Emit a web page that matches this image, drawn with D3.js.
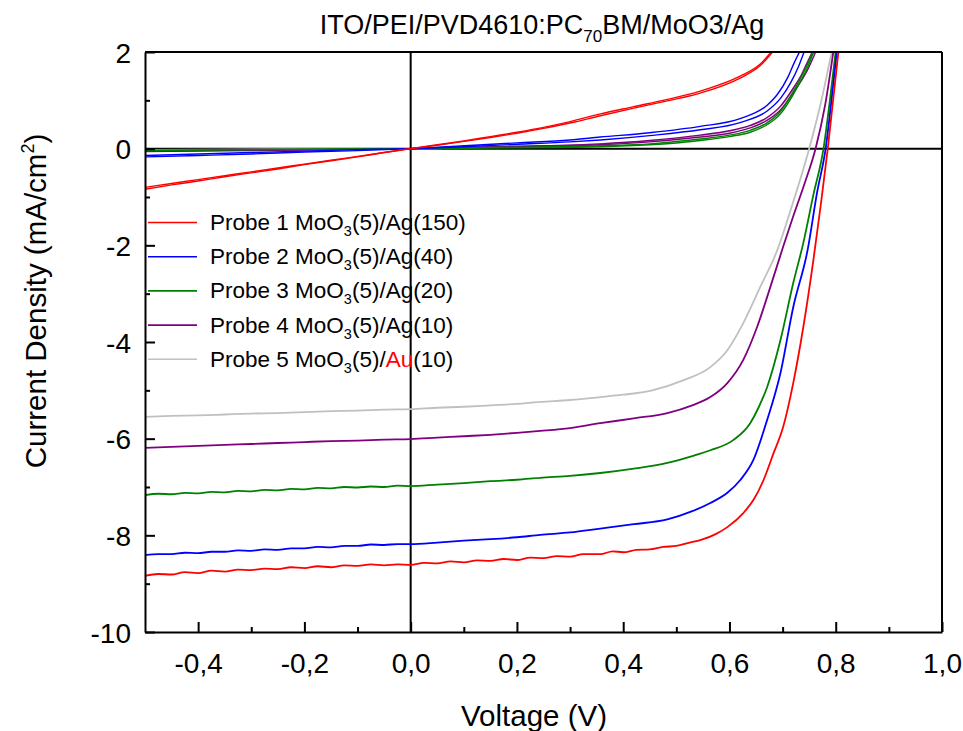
<!DOCTYPE html>
<html><head><meta charset="utf-8">
<script src="https://cdn.jsdelivr.net/npm/d3@7"></script>
<style>
body{margin:0;background:#fff;}
text{font-family:Arial,"Liberation Sans",sans-serif;fill:#000;}
</style></head><body>
<svg id="c" width="963" height="731"></svg>
<script>
// ---------- data ----------
const probes = ["Probe 1", "Probe 2", "Probe 3", "Probe 4", "Probe 5"];
const metals = ["Ag", "Ag", "Ag", "Ag", "Au"];
const thickness = ["150", "40", "20", "10", "10"];
const colors = ["#ff0000", "#0000ff", "#008000", "#800080", "#c0c0c0"];
const xTickValues = [-0.4, -0.2, 0, 0.2, 0.4, 0.6, 0.8, 1.0];
const xMinorTicks = [-0.3, -0.1, 0.1, 0.3, 0.5, 0.7, 0.9];
const yTickValues = [2, 0, -2, -4, -6, -8, -10];
const yMinorTicks = [1, -1, -3, -5, -7, -9];

// illuminated J-V curves [V, J]
const light1 = [[-0.5,-8.84],[-0.475,-8.8],[-0.45,-8.81],[-0.425,-8.76],[-0.4,-8.78],[-0.375,-8.73],[-0.35,-8.75],[-0.325,-8.71],[-0.3,-8.72],[-0.275,-8.69],[-0.25,-8.7],[-0.225,-8.66],[-0.2,-8.68],[-0.175,-8.64],[-0.15,-8.66],[-0.125,-8.62],[-0.1,-8.63],[-0.075,-8.6],[-0.05,-8.62],[-0.025,-8.6],[0,-8.61],[0.025,-8.57],[0.05,-8.58],[0.075,-8.54],[0.1,-8.56],[0.125,-8.52],[0.15,-8.53],[0.175,-8.49],[0.2,-8.51],[0.225,-8.46],[0.25,-8.47],[0.275,-8.43],[0.3,-8.44],[0.325,-8.39],[0.357,-8.39],[0.38,-8.33],[0.4,-8.35],[0.425,-8.3],[0.45,-8.29],[0.475,-8.24],[0.5,-8.22],[0.525,-8.15],[0.545,-8.1],[0.575,-7.97],[0.596,-7.83],[0.626,-7.54],[0.645,-7.27],[0.664,-6.86],[0.683,-6.3],[0.701,-5.76],[0.72,-4.85],[0.739,-3.69],[0.758,-2.3],[0.772,-1.15],[0.785,0],[0.795,1.0],[0.807,2.2]];
const light2 = [[-0.5,-8.41],[-0.475,-8.39],[-0.45,-8.39],[-0.425,-8.36],[-0.4,-8.37],[-0.375,-8.34],[-0.35,-8.34],[-0.325,-8.31],[-0.3,-8.32],[-0.275,-8.29],[-0.25,-8.3],[-0.225,-8.27],[-0.2,-8.27],[-0.175,-8.24],[-0.15,-8.25],[-0.125,-8.22],[-0.1,-8.22],[-0.075,-8.19],[-0.05,-8.2],[-0.025,-8.18],[0,-8.18],[0.05,-8.15],[0.1,-8.11],[0.15,-8.08],[0.2,-8.04],[0.244,-7.99],[0.3,-7.94],[0.357,-7.86],[0.42,-7.77],[0.483,-7.67],[0.53,-7.5],[0.564,-7.33],[0.596,-7.12],[0.62,-6.86],[0.645,-6.44],[0.671,-5.61],[0.696,-4.64],[0.72,-3.28],[0.747,-2.1],[0.765,-0.9],[0.781,0],[0.792,1.0],[0.804,2.2]];
const light3 = [[-0.5,-7.17],[-0.475,-7.14],[-0.45,-7.15],[-0.425,-7.12],[-0.4,-7.13],[-0.375,-7.1],[-0.35,-7.11],[-0.325,-7.08],[-0.3,-7.09],[-0.275,-7.06],[-0.25,-7.07],[-0.225,-7.04],[-0.2,-7.05],[-0.175,-7.02],[-0.15,-7.03],[-0.125,-7.0],[-0.1,-7.01],[-0.075,-6.99],[-0.05,-7.0],[-0.025,-6.97],[0,-6.98],[0.05,-6.95],[0.1,-6.92],[0.15,-6.88],[0.2,-6.85],[0.244,-6.81],[0.3,-6.77],[0.357,-6.71],[0.42,-6.62],[0.483,-6.5],[0.53,-6.36],[0.564,-6.24],[0.607,-6.03],[0.639,-5.68],[0.655,-5.35],[0.671,-4.93],[0.696,-3.96],[0.72,-2.78],[0.739,-1.95],[0.758,-0.95],[0.777,0],[0.789,1.0],[0.802,2.2]];
const light4 = [[-0.5,-6.19],[-0.45,-6.17],[-0.4,-6.15],[-0.35,-6.13],[-0.3,-6.11],[-0.25,-6.09],[-0.2,-6.07],[-0.15,-6.05],[-0.1,-6.04],[-0.05,-6.02],[0,-6.01],[0.05,-5.98],[0.1,-5.95],[0.15,-5.92],[0.2,-5.88],[0.244,-5.84],[0.3,-5.78],[0.357,-5.68],[0.42,-5.58],[0.483,-5.47],[0.53,-5.31],[0.564,-5.14],[0.596,-4.85],[0.626,-4.37],[0.652,-3.69],[0.677,-2.86],[0.701,-2.03],[0.72,-1.4],[0.742,-0.7],[0.762,0],[0.78,0.9],[0.798,2.2]];
const light5 = [[-0.5,-5.55],[-0.45,-5.53],[-0.4,-5.52],[-0.35,-5.5],[-0.3,-5.48],[-0.25,-5.47],[-0.2,-5.45],[-0.15,-5.43],[-0.1,-5.42],[-0.05,-5.4],[0,-5.39],[0.05,-5.36],[0.1,-5.34],[0.15,-5.31],[0.2,-5.28],[0.244,-5.24],[0.3,-5.2],[0.357,-5.14],[0.4,-5.09],[0.451,-5.01],[0.514,-4.79],[0.564,-4.52],[0.596,-4.17],[0.626,-3.61],[0.658,-2.86],[0.69,-2.1],[0.72,-1.1],[0.75,0],[0.772,0.95],[0.796,2.2]];

// dark J-V curves [V, J] (two sweeps)
const dark1a = [[-0.5,-0.8],[-0.45,-0.72],[-0.4,-0.64],[-0.35,-0.56],[-0.3,-0.48],[-0.25,-0.4],[-0.2,-0.32],[-0.15,-0.24],[-0.1,-0.16],[-0.05,-0.08],[0,0],[0.05,0.07],[0.1,0.15],[0.15,0.23],[0.2,0.32],[0.25,0.42],[0.3,0.53],[0.357,0.68],[0.42,0.84],[0.483,0.99],[0.545,1.15],[0.62,1.46],[0.658,1.72],[0.685,2.05]];
const dark1b = [[-0.5,-0.84],[-0.45,-0.75],[-0.4,-0.67],[-0.35,-0.58],[-0.3,-0.5],[-0.25,-0.42],[-0.2,-0.33],[-0.15,-0.25],[-0.1,-0.17],[-0.05,-0.08],[0,0],[0.05,0.08],[0.1,0.16],[0.15,0.25],[0.2,0.34],[0.25,0.44],[0.3,0.56],[0.357,0.72],[0.42,0.87],[0.483,1.02],[0.545,1.19],[0.62,1.5],[0.658,1.75],[0.682,2.05]];
const dark2a = [[-0.5,-0.17],[-0.4,-0.14],[-0.3,-0.11],[-0.2,-0.07],[-0.1,-0.04],[0,0],[0.1,0.04],[0.2,0.09],[0.3,0.14],[0.357,0.18],[0.45,0.27],[0.545,0.39],[0.62,0.54],[0.671,0.78],[0.696,1.04],[0.715,1.36],[0.73,1.7],[0.742,2.05]];
const dark2b = [[-0.5,-0.14],[-0.4,-0.11],[-0.3,-0.08],[-0.2,-0.05],[-0.1,-0.02],[0,0],[0.1,0.06],[0.2,0.12],[0.3,0.18],[0.357,0.24],[0.45,0.33],[0.545,0.46],[0.62,0.62],[0.671,0.9],[0.69,1.12],[0.71,1.48],[0.722,1.78],[0.734,2.05]];
const dark3a = [[-0.5,-0.03],[-0.3,-0.02],[0,0],[0.2,0.02],[0.357,0.04],[0.45,0.08],[0.545,0.17],[0.6,0.25],[0.639,0.34],[0.67,0.49],[0.696,0.72],[0.72,1.12],[0.735,1.42],[0.747,1.68],[0.76,2.05]];
const dark3b = [[-0.5,-0.04],[-0.3,-0.02],[0,0],[0.2,0.03],[0.357,0.06],[0.45,0.1],[0.545,0.2],[0.6,0.28],[0.639,0.38],[0.67,0.53],[0.696,0.77],[0.72,1.18],[0.735,1.48],[0.747,1.75],[0.758,2.05]];
const dark4a = [[-0.5,-0.06],[-0.3,-0.04],[0,0],[0.2,0.04],[0.357,0.08],[0.45,0.14],[0.545,0.24],[0.6,0.32],[0.639,0.43],[0.67,0.58],[0.696,0.8],[0.72,1.15],[0.735,1.4],[0.747,1.63],[0.764,2.05]];
const dark4b = [[-0.5,-0.05],[-0.3,-0.03],[0,0],[0.2,0.05],[0.357,0.1],[0.45,0.17],[0.545,0.28],[0.6,0.37],[0.639,0.48],[0.67,0.64],[0.696,0.88],[0.72,1.25],[0.735,1.52],[0.745,1.75],[0.758,2.05]];
const dark5a = [[-0.5,-0.02],[-0.3,-0.01],[0,0],[0.2,0.05],[0.357,0.1],[0.45,0.16],[0.545,0.27],[0.6,0.36],[0.639,0.47],[0.67,0.62],[0.696,0.86],[0.72,1.22],[0.745,1.7],[0.762,2.1]];

const lightCurves = [light1, light2, light3, light4, light5];
const darkCurves = [[dark1a, dark1b], [dark2a, dark2b], [dark3a, dark3b], [dark4a, dark4b], [dark5a]];

// ---------- layout ----------
const FONT = "Arial,'Liberation Sans',sans-serif";
const svg = d3.select("#c");
const L = 145, R = 942, T = 52, B = 632;
const x = d3.scaleLinear().domain([-0.5, 1.0]).range([L, R]);
const y = d3.scaleLinear().domain([-10, 2]).range([B, T]);
const fmt = v => d3.format(".1f")(v).replace(".", ",").replace("−", "-");

svg.append("defs").append("clipPath").attr("id", "clip")
  .append("rect").attr("x", L).attr("y", T).attr("width", R - L).attr("height", B - T);

// zero lines
svg.append("line").attr("x1", L).attr("x2", R).attr("y1", y(0)).attr("y2", y(0))
  .attr("stroke", "#000").attr("stroke-width", 2);
svg.append("line").attr("x1", x(0)).attr("x2", x(0)).attr("y1", T).attr("y2", B)
  .attr("stroke", "#000").attr("stroke-width", 2);

// curves
const line = d3.line().x(d => x(d[0])).y(d => y(d[1])).curve(d3.curveMonotoneX);
const g = svg.append("g").attr("clip-path", "url(#clip)");
[4, 3, 2, 1, 0].forEach(i => {
  darkCurves[i].forEach(c => g.append("path").attr("d", line(c)).attr("fill", "none")
    .attr("stroke", colors[i]).attr("stroke-width", 1.4));
  g.append("path").attr("d", line(lightCurves[i])).attr("fill", "none")
    .attr("stroke", colors[i]).attr("stroke-width", 1.8);
});

// frame
svg.append("line").attr("x1", L).attr("x2", R).attr("y1", T).attr("y2", T).attr("stroke", "#000").attr("stroke-width", 2);
svg.append("line").attr("x1", R).attr("x2", R).attr("y1", T).attr("y2", B).attr("stroke", "#000").attr("stroke-width", 2);

// axes
const xAxis = svg.append("g").attr("transform", `translate(0,${B})`)
  .call(d3.axisBottom(x).tickValues(xTickValues).tickSizeInner(-10).tickSizeOuter(0).tickFormat(fmt));
svg.append("g").attr("transform", `translate(0,${B})`)
  .call(d3.axisBottom(x).tickValues(xMinorTicks).tickSizeInner(-5).tickSizeOuter(0).tickFormat(""))
  .select(".domain").remove();
const yAxis = svg.append("g").attr("transform", `translate(${L},0)`)
  .call(d3.axisLeft(y).tickValues(yTickValues).tickSizeInner(-10).tickSizeOuter(0).tickFormat(d => String(d).replace("−", "-")));
svg.append("g").attr("transform", `translate(${L},0)`)
  .call(d3.axisLeft(y).tickValues(yMinorTicks).tickSizeInner(-5).tickSizeOuter(0).tickFormat(""))
  .select(".domain").remove();
svg.selectAll(".domain").attr("stroke-width", 2);
svg.selectAll(".tick line").attr("stroke-width", 2);
xAxis.selectAll("text").attr("y", 41).attr("dy", 0).attr("font-size", 28).attr("font-family", FONT).attr("fill", "#000");
yAxis.selectAll("text").attr("x", -14).attr("dy", "0.36em").attr("font-size", 28).attr("font-family", FONT).attr("fill", "#000");

// axis titles
svg.append("text").attr("x", 534).attr("y", 726).attr("text-anchor", "middle")
  .attr("font-size", 29.5).text("Voltage (V)");
const yl = svg.append("text").attr("transform", "translate(46,301) rotate(-90)")
  .attr("text-anchor", "middle").attr("font-size", 29.5);
yl.append("tspan").text("Current Density (mA/cm");
yl.append("tspan").attr("dy", -12).attr("font-size", 18).text("2");
yl.append("tspan").attr("dy", 12).text(")");

// title
const tt = svg.append("text").attr("x", 542).attr("y", 34).attr("text-anchor", "middle").attr("font-size", 27);
tt.append("tspan").text("ITO/PEI/PVD4610:PC");
tt.append("tspan").attr("dy", 8).attr("font-size", 17).text("70");
tt.append("tspan").attr("dy", -8).text("BM/MoO3/Ag");

// legend
const lg = svg.append("g");
probes.forEach((p, i) => {
  const yy = 222.5 + i * 34.2;
  lg.append("line").attr("x1", 148).attr("x2", 197).attr("y1", yy).attr("y2", yy)
    .attr("stroke", colors[i]).attr("stroke-width", 1.6);
  const t = lg.append("text").attr("x", 210).attr("y", yy + 7.5).attr("font-size", 22.5);
  t.append("tspan").text(p + " MoO");
  t.append("tspan").attr("dy", 6).attr("font-size", 14.5).text("3");
  t.append("tspan").attr("dy", -6).text("(5)/");
  t.append("tspan").attr("fill", metals[i] === "Au" ? "#ff0000" : "#000").text(metals[i]);
  t.append("tspan").text("(" + thickness[i] + ")");
});
</script>
</body></html>
